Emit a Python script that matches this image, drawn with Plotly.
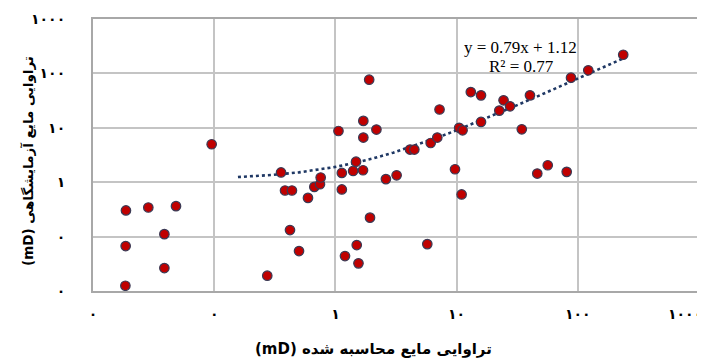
import plotly.graph_objects as go

# Calculated liquid permeability (mD) vs laboratory liquid permeability (mD)
x_calc = [0.0187, 0.0286, 0.0484, 0.0388, 0.0186, 0.0388, 0.0185, 0.0953, 0.274, 0.356,
          0.384, 0.438, 0.422, 0.501, 0.594, 0.670, 0.746, 0.756, 1.06, 1.13,
          1.13, 1.20, 1.40, 1.48, 1.50, 1.55, 1.70, 1.70, 1.69, 1.90,
          1.93, 2.18, 2.61, 3.20, 4.13, 4.48, 5.73, 6.11, 6.93, 7.23,
          9.70, 10.5, 11.0, 11.2, 13.1, 15.9, 15.9, 22.5, 24.4, 27.6,
          34.5, 40.3, 46.3, 56.5, 81.0, 87.9, 122, 237]
y_lab = [0.303, 0.343, 0.363, 0.111, 0.067, 0.0264, 0.0125, 4.98, 0.0191, 1.51,
         0.704, 0.704, 0.132, 0.0542, 0.515, 0.820, 0.919, 1.22, 8.74, 1.48,
         0.735, 0.0439, 1.61, 2.38, 0.0698, 0.0322, 13.4, 6.61, 1.66, 76.6,
         0.223, 9.27, 1.14, 1.34, 3.98, 3.98, 0.0728, 5.26, 6.61, 21.7,
         1.73, 10.0, 0.595, 9.0, 45.4, 39.5, 12.8, 20.7, 32.0, 24.8,
         9.39, 39.5, 1.44, 2.05, 1.55, 83.4, 114, 220]

# Linear trendline reported on the chart
slope = 0.79
intercept = 1.12
trend_x = [0.157, 0.2, 0.3, 0.5, 0.75, 1, 1.5, 2, 3, 5, 7.5, 10, 15, 20, 30, 50, 75, 100, 150, 200, 237]

tick_vals = [0.01, 0.1, 1, 10, 100, 1000]
tick_text = ["۰", "۰", "۱", "۱۰", "۱۰۰", "۱۰۰۰"]

x_title = "(mD) تراوایی مایع محاسبه شده"
y_title = "(mD) تراوایی مایع آزمایشگاهی"
eq_text = "y = 0.79x + 1.12"
r2_text = "R² = 0.77"

trend_y = [slope * v + intercept for v in trend_x]

# the page body has an 8px default margin; lay the figure out to compensate
OFF = 8
FW, FH = 705 - OFF, 361 - OFF
L, R, T, B = 93, 699, 18.5, 291.5          # plot area in window pixels
W, H = R - L, B - T

def px(xp):
    return (xp - L) / W

def py(yp):
    return (B - yp) / H

tick_font = dict(family="DejaVu Sans", size=14, color="#000000", weight="bold")

fig = go.Figure()
fig.add_trace(go.Scatter(
    x=trend_x, y=trend_y, mode="lines",
    line=dict(color="#1F3864", width=2.6, dash="dot"),
    hoverinfo="skip", showlegend=False))
fig.add_trace(go.Scatter(
    x=x_calc, y=y_lab, mode="markers",
    marker=dict(size=9.5, color="#C00000", line=dict(color="#3A3A55", width=1.2)),
    showlegend=False))

axis_common = dict(
    type="log", range=[-2, 3],
    showgrid=True, gridcolor="#C4C4C4", gridwidth=1.6,
    showline=True, linecolor="#A8A8A8", linewidth=2, mirror=True,
    zeroline=False, ticks="", automargin=False,
    tickfont=tick_font,
)

# last x label sits against the right edge; it is drawn as an annotation below
fig.update_xaxes(**axis_common, tickvals=tick_vals[:-1], ticktext=tick_text[:-1],
                 ticklabelstandoff=9)
fig.update_yaxes(**axis_common, tickvals=tick_vals, ticktext=tick_text,
                 ticklabelstandoff=23)

fig.add_annotation(text=tick_text[-1], xref="paper", yref="paper",
                   x=px(704), y=py(315), xanchor="right", yanchor="middle", showarrow=False,
                   font=tick_font)
fig.add_annotation(text="<b>" + x_title + "</b>", xref="paper", yref="paper",
                   x=px(373), y=py(350), xanchor="center", yanchor="middle", showarrow=False,
                   font=dict(family="DejaVu Sans", size=15, color="#000000"))
fig.add_annotation(text="<b>" + y_title + "</b>", xref="paper", yref="paper",
                   x=px(28), y=py(161), xanchor="center", yanchor="middle",
                   textangle=-90, showarrow=False,
                   font=dict(family="DejaVu Sans", size=13.5, color="#000000"))
fig.add_annotation(text=eq_text, xref="paper", yref="paper", xanchor="left", yanchor="middle",
                   x=px(462), y=py(47), showarrow=False,
                   font=dict(family="Liberation Serif", size=17, color="#000000"))
fig.add_annotation(text=r2_text, xref="paper", yref="paper", xanchor="left", yanchor="middle",
                   x=px(487), y=py(66.5), showarrow=False,
                   font=dict(family="Liberation Serif", size=17, color="#000000"))

fig.update_layout(
    width=FW, height=FH,
    margin=dict(l=L - OFF, r=705 - R, t=T - OFF, b=361 - B),
    paper_bgcolor="#FFFFFF", plot_bgcolor="#FFFFFF",
    showlegend=False,
)

fig.write_html("out.html")
